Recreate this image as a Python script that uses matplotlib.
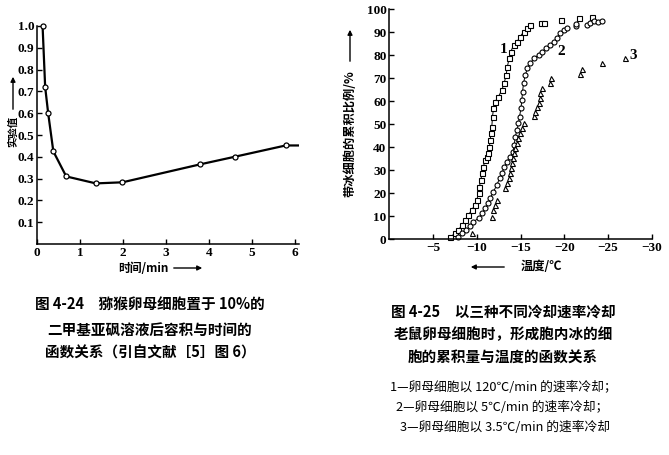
import numpy as np
import matplotlib
matplotlib.use("Agg")
import matplotlib.pyplot as plt
from matplotlib.patches import FancyArrowPatch

plt.rcParams['font.family'] = ['Noto Sans CJK SC', 'DejaVu Sans']
plt.rcParams['axes.unicode_minus'] = True

# ---- fig 4-24 : relative volume vs time
t_min = [0.13, 0.19, 0.26, 0.38, 0.68, 1.37, 1.99, 3.79, 4.60, 5.79]
vol = [1.00, 0.72, 0.60, 0.425, 0.31, 0.278, 0.283, 0.365, 0.40, 0.452]
t_end, vol_end = 6.09, 0.452   # line runs past last marker

# ---- fig 4-25 : cumulative fraction of cells with ice vs temperature
# curve 1 : 120 C/min
t1 = [-6.95, -7.5, -7.9, -8.3, -8.7, -9.05, -9.4, -9.8, -10.0, -10.2, -10.3, -10.47,
      -10.6, -10.76, -10.96, -11.15, -11.34, -11.45, -11.53, -11.61, -11.72, -11.8,
      -11.91, -12.1, -12.48, -12.87, -13.13, -13.36, -13.5, -13.7, -13.9, -14.2,
      -14.6, -14.97, -15.35, -15.8, -16.1]
p1 = [0.7, 2.5, 3.9, 6.1, 8.3, 10.4, 12.6, 14.8, 17.0, 19.9, 22.8, 25.7,
      28.6, 31.5, 34.4, 35.8, 37.3, 40.2, 43.1, 46.0, 48.9, 53.2,
      56.9, 59.8, 62.0, 64.9, 67.8, 71.4, 75.0, 78.7, 81.5, 84.5,
      85.9, 88.1, 90.2, 91.7, 93.2]
t1_tail = [-17.3, -17.7, -19.6, -21.7, -23.2]
p1_tail = [94.2, 94.2, 95.2, 96.1, 96.8]

# curve 2 : 5 C/min
t2 = [-7.9, -8.3, -8.8, -9.25, -9.6, -10.2, -10.6, -10.96, -11.34, -11.53, -11.9,
      -12.3, -12.6, -12.87, -13.17, -13.44, -13.82, -14.13, -14.28, -14.4, -14.6,
      -14.77, -14.89, -15.05, -15.16, -15.23, -15.35, -15.54, -15.8, -16.1, -16.57,
      -17.06, -17.45, -17.94, -18.4, -18.78, -19.17, -19.47, -19.92, -20.3]
p2 = [0.7, 2.5, 3.9, 5.7, 7.5, 9.0, 11.2, 13.4, 15.5, 17.7, 20.6,
      23.5, 26.4, 28.6, 31.5, 33.7, 35.8, 38.0, 40.9, 44.5, 47.5,
      50.4, 53.2, 56.9, 60.5, 64.1, 67.8, 71.4, 74.3, 76.5, 78.7,
      80.1, 81.5, 83.0, 84.5, 85.9, 87.4, 89.6, 91.0, 91.7]
t2_tail = [-21.3, -21.4, -22.6, -23.0, -23.4, -23.9, -24.3]
p2_tail = [92.7, 93.8, 93.2, 93.9, 95.0, 94.6, 95.0]

# curve 3 : 3.5 C/min
t3 = [-9.43, -11.72, -11.91, -12.1, -12.3, -13.25, -13.44, -13.63, -13.82, -13.9,
      -14.0, -14.13, -14.28, -14.39, -14.59, -14.77, -14.97, -15.16, -15.35,
      -16.49, -16.68, -16.87, -17.06, -17.18, -17.26, -17.45, -18.4, -18.48,
      -21.8, -22.0, -24.3, -26.9]
p3 = [2.5, 9.4, 12.6, 14.8, 17.0, 22.1, 24.2, 26.4, 28.6, 30.8,
      33.0, 35.1, 37.3, 39.5, 41.7, 43.8, 46.0, 48.2, 50.4,
      53.5, 55.4, 57.6, 59.3, 61.2, 63.4, 65.6, 67.8, 70.0,
      71.8, 73.8, 76.5, 78.7]

W, H = 669, 455
fig = plt.figure(figsize=(W / 100, H / 100), dpi=100)


def fx(x):
    return x / W


def fy(y):
    return 1 - y / H


tickfont = dict(family='Liberation Serif', weight='bold', size=9.5)


def style(ax):
    for s in ['top', 'right']:
        ax.spines[s].set_visible(False)
    for s in ['left', 'bottom']:
        ax.spines[s].set_linewidth(1.1)
    ax.tick_params(direction='in', length=3.5, width=1, pad=2)
    for lab in ax.get_xticklabels() + ax.get_yticklabels():
        lab.set_fontproperties(matplotlib.font_manager.FontProperties(**tickfont))


def arrow(x0, y0, x1, y1):
    fig.add_artist(FancyArrowPatch((fx(x0), fy(y0)), (fx(x1), fy(y1)),
                                   transform=fig.transFigure, arrowstyle='-|>',
                                   mutation_scale=7, lw=1.0, color='black'))


# ---------------- left chart
ax1 = fig.add_axes([fx(37), fy(244), 262 / W, 218 / H])
ax1.plot(t_min + [t_end], vol + [vol_end], color='black', lw=1.6, zorder=2)
ax1.plot(t_min, vol, 'o', ms=3.6, mfc='white', mec='black', mew=0.9, clip_on=False, zorder=3)
ax1.set_xlim(0, 6.1)
ax1.set_ylim(0, 1.0)
ax1.set_xticks([0, 1, 2, 3, 4, 5, 6])
ax1.set_yticks(np.round(np.arange(0.1, 1.01, 0.1), 1))
ax1.set_yticklabels(['%.1f' % v for v in np.arange(0.1, 1.01, 0.1)])
style(ax1)

fig.text(fx(13), fy(131), '实验值', rotation=90, ha='center', va='center',
         fontsize=7.5, weight='bold')
arrow(13, 112, 13, 74)
fig.text(fx(143), fy(268), '时间/min', ha='center', va='center', fontsize=8.5, weight='bold')
arrow(171, 268, 205, 268)

# ---------------- right chart
ax2 = fig.add_axes([fx(389.3), fy(239), 262.4 / W, 229.7 / H])
mk = dict(ls='none', ms=3.6, mfc='white', mec='black', mew=0.8, clip_on=False)
ax2.plot(t1, p1, color='black', lw=0.7)
ax2.plot(t2, p2, color='black', lw=0.7)
ax2.plot(t1 + t1_tail, p1 + p1_tail, marker='s', **mk)
ax2.plot(t2 + t2_tail, p2 + p2_tail, marker='o', **mk)
ax2.plot(t3, p3, marker='^', **mk)
ax2.set_xlim(0, -30)
ax2.set_ylim(0, 100)
ax2.set_xticks([-5, -10, -15, -20, -25, -30])
ax2.set_yticks(np.arange(0, 101, 10))
style(ax2)
lblfont = dict(family='Liberation Serif', weight='bold', size=11)
ax2.text(-13.05, 82.3, '1', ha='center', va='center', **lblfont)
ax2.text(-19.7, 81.5, '2', ha='center', va='center', **lblfont)
ax2.text(-27.9, 80.1, '3', ha='center', va='center', **lblfont)

fig.text(fx(350), fy(134), '带冰细胞的累积比例/%', rotation=90, ha='center', va='center',
         fontsize=8.8, weight='bold')
arrow(350, 64, 350, 27)
arrow(507, 267, 468, 267)
fig.text(fx(541), fy(267), '温度/℃', ha='center', va='center', fontsize=8.8, weight='bold')

# ---------------- captions
cap = dict(ha='center', va='center', fontsize=10.5, weight='bold')
fig.text(fx(150), fy(305), '图 4-24　猕猴卵母细胞置于 10%的', **cap)
fig.text(fx(150), fy(330), '二甲基亚砜溶液后容积与时间的', **cap)
fig.text(fx(150), fy(353), '函数关系（引自文献［5］图 6）', **cap)

fig.text(fx(503), fy(312), '图 4-25　以三种不同冷却速率冷却', **cap)
fig.text(fx(503), fy(334), '老鼠卵母细胞时，形成胞内冰的细', **cap)
fig.text(fx(503), fy(358), '胞的累积量与温度的函数关系', **cap)
note = dict(ha='center', va='center', fontsize=9.2)
fig.text(fx(503), fy(387), '1—卵母细胞以 120℃/min 的速率冷却；', **note)
fig.text(fx(502), fy(407), '2—卵母细胞以 5℃/min 的速率冷却；', **note)
fig.text(fx(505), fy(427), '3—卵母细胞以 3.5℃/min 的速率冷却', **note)

fig.savefig('out.png', dpi=100)
